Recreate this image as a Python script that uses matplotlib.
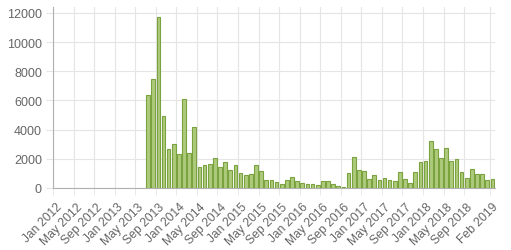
import numpy as np
import matplotlib
matplotlib.use("Agg")
import matplotlib.pyplot as plt

# ==========================================
# DATA
# ==========================================

month_names = ["Jan", "Feb", "Mar", "Apr", "May", "Jun",
               "Jul", "Aug", "Sep", "Oct", "Nov", "Dec"]

months = [f"{month_names[m]} {y}" for y in range(2012, 2020) for m in range(12)][:86]

counts = [
    0, 0, 0, 0, 0, 0, 0, 0, 0, 0, 0, 0,                                  # 2012
    0, 0, 0, 0, 0, 0, 6350, 7500, 11700, 4900, 2680, 3000,               # 2013
    2330, 6100, 2400, 4180, 1420, 1570, 1640, 2030, 1410, 1800, 1230, 1570,  # 2014
    1030, 890, 940, 1570, 1170, 570, 560, 390, 280, 550, 730, 460,       # 2015
    340, 270, 270, 210, 480, 480, 270, 120, 50, 1010, 2110, 1240,        # 2016
    1160, 620, 890, 550, 680, 550, 480, 1100, 620, 340, 1100, 1780,      # 2017
    1850, 3220, 2670, 2050, 2740, 1850, 1990, 1100, 680, 1300, 960, 960, # 2018
    550, 620,                                                            # 2019
]

shown_labels = list(range(0, 84, 4)) + [85]
y_ticks = [0, 2000, 4000, 6000, 8000, 10000, 12000]

# ==========================================
# PLOT
# ==========================================

plt.rcParams["font.family"] = ["Liberation Sans", "DejaVu Sans"]

fig = plt.figure(figsize=(5.11, 2.51), dpi=100)
ax = fig.add_axes([53 / 511, 62 / 251, 442 / 511, 181 / 251])

x = np.arange(len(counts))

# empty months get no outline so the axis line stays clean
edge_widths = [0.8 if c > 0 else 0 for c in counts]

ax.bar(
    x,
    counts,
    width=0.72,
    color="#aecb7d",
    edgecolor="#7aa23f",
    linewidth=edge_widths,
    zorder=3
)

ax.set_xlim(-0.5, len(counts) - 0.5)
ax.set_ylim(0, 12400)

# labels at category centres, grid lines at category left edges
ax.set_xticks(shown_labels)
ax.set_xticklabels([months[i] for i in shown_labels],
                   rotation=45, ha="right", rotation_mode="anchor")
ax.set_xticks([i - 0.5 for i in shown_labels], minor=True)
ax.tick_params(axis="x", which="major", length=0, pad=9,
               labelsize=8.7, labelcolor="#666666")
ax.tick_params(axis="x", which="minor", length=5, color="#e5e5e5")

ax.set_yticks(y_ticks)
ax.tick_params(axis="y", length=5, color="#e5e5e5", pad=3,
               labelsize=9, labelcolor="#666666")

ax.grid(True, axis="x", which="minor", color="#e5e5e5", linewidth=0.8, zorder=0)
ax.grid(True, axis="y", which="major", color="#e5e5e5", linewidth=0.8, zorder=0)

for side in ["top", "right"]:
    ax.spines[side].set_visible(False)
for side in ["left", "bottom"]:
    ax.spines[side].set_color("#b0b0b0")
    ax.spines[side].set_linewidth(0.8)

plt.savefig("out.png", dpi=100)
plt.close()
